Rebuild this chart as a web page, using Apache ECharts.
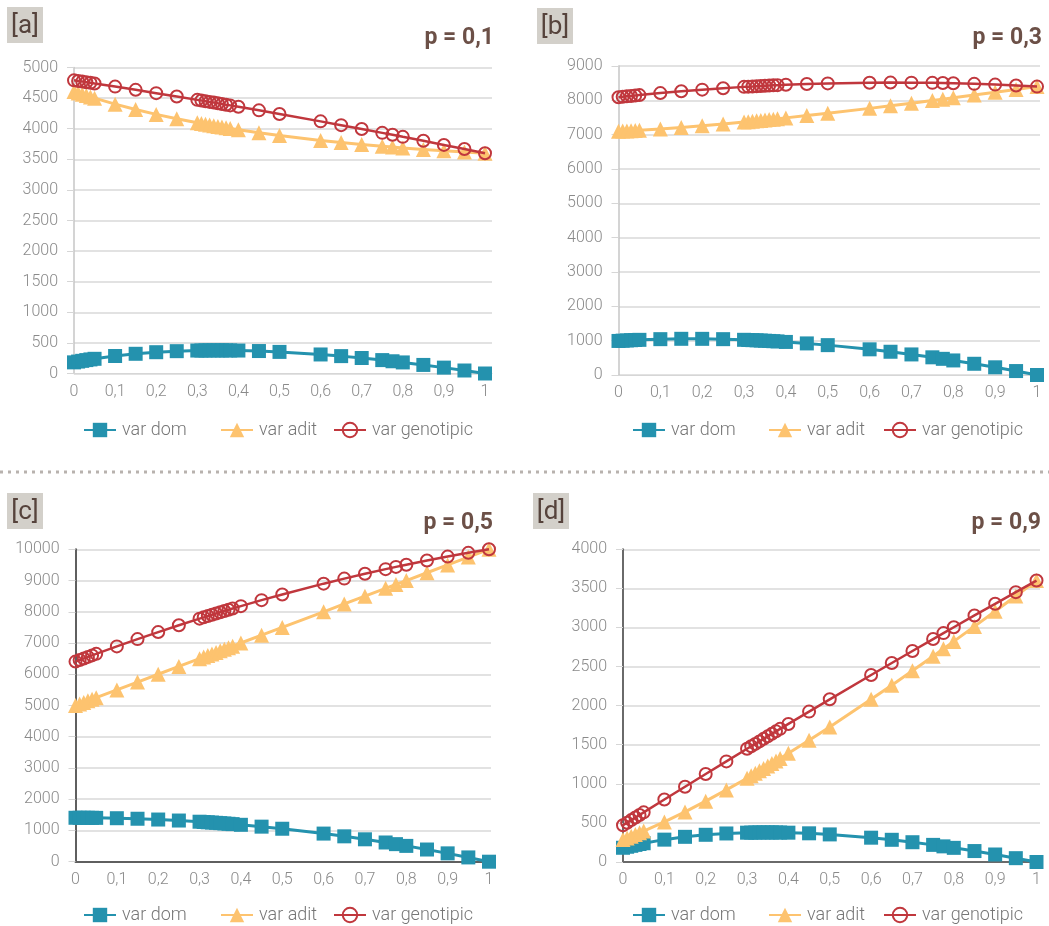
<!DOCTYPE html>
<html>
<head>
<meta charset="utf-8">
<script src="https://cdn.jsdelivr.net/npm/echarts@6/dist/echarts.min.js"></script>
<style>
  html, body { margin: 0; padding: 0; background: #fff; }
  #chart { width: 1049px; height: 926px; }
</style>
</head>
<body>
<div id="chart"></div>
<script>
// Inbreeding coefficient values (x axis), shared by the four panels
const fValues = [0, 0.01, 0.02, 0.03, 0.04, 0.05, 0.1, 0.15, 0.2, 0.25, 0.3, 0.31, 0.32, 0.33, 0.34, 0.35, 0.36, 0.37, 0.38, 0.4, 0.45, 0.5, 0.6, 0.65, 0.7, 0.75, 0.775, 0.8, 0.85, 0.9, 0.95, 1];

// p = 0,1
const domP01 = [182, 195, 207, 219, 230, 240, 286, 322, 348, 365, 375, 376, 377, 378, 378, 378, 378, 378, 377, 375, 367, 353, 311, 284, 253, 219, 200, 181, 140, 96, 49, 0];
const aditP01 = [4608, 4585, 4563, 4541, 4520, 4499, 4401, 4313, 4234, 4162, 4096, 4084, 4072, 4060, 4048, 4037, 4026, 4015, 4004, 3983, 3933, 3888, 3809, 3774, 3742, 3713, 3700, 3686, 3662, 3639, 3619, 3600];
const genP01 = [4790, 4780, 4770, 4760, 4750, 4739, 4688, 4635, 4581, 4527, 4471, 4460, 4449, 4438, 4427, 4415, 4404, 4392, 4381, 4358, 4300, 4241, 4120, 4058, 3995, 3932, 3900, 3867, 3802, 3735, 3668, 3600];

// p = 0,3
const domP03 = [992, 1000, 1006, 1013, 1019, 1024, 1044, 1054, 1053, 1044, 1025, 1020, 1015, 1010, 1004, 998, 992, 985, 978, 963, 920, 870, 748, 677, 599, 515, 471, 424, 327, 224, 115, 0];
const aditP03 = [7098, 7104, 7110, 7116, 7122, 7129, 7166, 7210, 7258, 7310, 7367, 7378, 7390, 7402, 7414, 7426, 7439, 7451, 7464, 7489, 7555, 7623, 7766, 7840, 7916, 7994, 8033, 8072, 8153, 8234, 8317, 8400];
const genP03 = [8090, 8103, 8116, 8128, 8141, 8153, 8211, 8263, 8311, 8354, 8392, 8399, 8405, 8412, 8418, 8424, 8430, 8436, 8442, 8452, 8475, 8493, 8514, 8517, 8515, 8509, 8503, 8497, 8480, 8458, 8432, 8400];

// p = 0,5
const domP05 = [1406, 1406, 1406, 1405, 1404, 1403, 1392, 1375, 1350, 1318, 1280, 1271, 1262, 1253, 1244, 1234, 1224, 1214, 1203, 1181, 1122, 1055, 900, 812, 717, 615, 562, 506, 390, 267, 137, 0];
const aditP05 = [5000, 5050, 5100, 5150, 5200, 5250, 5500, 5750, 6000, 6250, 6500, 6550, 6600, 6650, 6700, 6750, 6800, 6850, 6900, 7000, 7250, 7500, 8000, 8250, 8500, 8750, 8875, 9000, 9250, 9500, 9750, 10000];
const genP05 = [6406, 6456, 6506, 6555, 6604, 6653, 6892, 7125, 7350, 7568, 7780, 7821, 7862, 7903, 7944, 7984, 8024, 8064, 8103, 8181, 8372, 8555, 8900, 9062, 9217, 9365, 9437, 9506, 9640, 9767, 9887, 10000];

// p = 0,9
const domP09 = [182, 195, 207, 219, 230, 240, 286, 322, 348, 365, 375, 376, 377, 378, 378, 378, 378, 378, 377, 375, 367, 353, 311, 284, 253, 219, 200, 181, 140, 96, 49, 0];
const aditP09 = [288, 308, 329, 351, 373, 395, 513, 641, 778, 922, 1072, 1103, 1134, 1166, 1197, 1229, 1261, 1293, 1325, 1391, 1557, 1728, 2081, 2262, 2446, 2633, 2728, 2822, 3014, 3207, 3403, 3600];
const genP09 = [470, 503, 536, 569, 602, 635, 800, 963, 1125, 1287, 1448, 1480, 1511, 1543, 1575, 1607, 1639, 1671, 1703, 1766, 1924, 2081, 2392, 2546, 2699, 2852, 2928, 3003, 3154, 3303, 3452, 3600];

const seriesNames = ['var dom', 'var adit', 'var genotipic'];
const panelTags = ['[a]', '[b]', '[c]', '[d]'];
const panelTitles = ['p = 0,1', 'p = 0,3', 'p = 0,5', 'p = 0,9'];
const yMax = [5000, 9000, 10000, 4000];
const yStep = [500, 1000, 1000, 500];

const panelData = [
  [domP01, aditP01, genP01],
  [domP03, aditP03, genP03],
  [domP05, aditP05, genP05],
  [domP09, aditP09, genP09]
];

// layout of each panel
const panels = [
  { left: 74,    top: 67.5,  width: 418,   height: 306,   xEnd: 411,   axisColor: '#c6c6c6', axisWidth: 1.5, tag: [7, 7],   title: [494, 38],  legendY: 430, legendX: [83, 220, 333] },
  { left: 618.5, top: 66,    width: 421.5, height: 309,   xEnd: 418.5, axisColor: '#c6c6c6', axisWidth: 1.5, tag: [537, 8], title: [1042, 38], legendY: 430, legendX: [632, 768, 883] },
  { left: 75.5,  top: 549.3, width: 415.5, height: 312.4, xEnd: 413.5, axisColor: '#5f5f5f', axisWidth: 2,   tag: [7, 493], title: [493, 523], legendY: 915, legendX: [83, 220, 333] },
  { left: 623,   top: 549.3, width: 417,   height: 312.7, xEnd: 413.5, axisColor: '#6a6a6a', axisWidth: 2,   tag: [533, 493], title: [1041, 523], legendY: 915, legendX: [632, 768, 883] }
];

const colors = ['#2492ae', '#fdc36f', '#c0373d'];
const FONT = 'Roboto, "Noto Sans", sans-serif';

const grids = [], xAxes = [], yAxes = [], series = [], legends = [], graphics = [];

panels.forEach((pn, k) => {
  grids.push({ left: pn.left, top: pn.top, width: pn.width, height: pn.height, containLabel: false });
  xAxes.push({
    type: 'value', gridIndex: k, min: 0, max: pn.width / pn.xEnd, interval: 0.1,
    axisLine: { show: true, onZero: false, lineStyle: { color: k < 2 ? '#d6d6d6' : pn.axisColor, width: k < 2 ? 1 : pn.axisWidth } },
    axisTick: { show: false },
    splitLine: { show: false },
    axisLabel: {
      margin: 10, fontSize: 16, fontWeight: 300, fontFamily: FONT, color: '#8a8a8a',
      formatter: v => {
        const t = v * 10;
        if (Math.abs(t - Math.round(t)) > 1e-6) return '';
        return String(Math.round(t) / 10).replace('.', ',');
      }
    }
  });
  yAxes.push({
    type: 'value', gridIndex: k, min: 0, max: yMax[k], interval: yStep[k],
    axisLine: { show: true, lineStyle: { color: pn.axisColor, width: pn.axisWidth } },
    axisTick: { show: true, length: 7, lineStyle: { color: '#d6d6d6', width: 1 } },
    splitLine: { show: true, lineStyle: { color: '#d9d9d9', width: 1.5 } },
    axisLabel: { margin: 16, fontSize: 16, fontWeight: 300, fontFamily: FONT, color: '#8a8a8a',
      formatter: v => String(v) }
  });

  const [dom, adit, gen] = panelData[k];
  const pts = arr => fValues.map((f, i) => [f, arr[i]]);
  series.push({
    name: seriesNames[0], type: 'line', xAxisIndex: k, yAxisIndex: k, data: pts(dom),
    symbol: 'rect', symbolSize: 14, z: 2, animation: false,
    lineStyle: { color: colors[0], width: 3 }, itemStyle: { color: colors[0] }
  });
  series.push({
    name: seriesNames[1], type: 'line', xAxisIndex: k, yAxisIndex: k, data: pts(adit),
    symbol: 'triangle', symbolSize: 15, z: 3, animation: false,
    lineStyle: { color: colors[1], width: 3 }, itemStyle: { color: colors[1] }
  });
  series.push({
    name: seriesNames[2], type: 'line', xAxisIndex: k, yAxisIndex: k, data: pts(gen),
    symbol: 'circle', symbolSize: 12, z: 4, animation: false,
    lineStyle: { color: colors[2], width: 2.5 },
    itemStyle: { color: 'rgba(255,255,255,0)', borderColor: colors[2], borderWidth: 2 }
  });

  seriesNames.forEach((nm, j) => {
    legends.push({
      data: [nm], left: pn.legendX[j], top: pn.legendY - 9, padding: 0,
      itemWidth: 32, itemHeight: 18, itemGap: 0, selectedMode: false,
      textStyle: { fontSize: 18, fontWeight: 300, fontFamily: FONT, color: '#767676', padding: [0, 0, 0, 1] }
    });
  });

  // panel tag box and title
  graphics.push({ type: 'rect', shape: { x: pn.tag[0], y: pn.tag[1], width: 36, height: 36 }, style: { fill: '#d3d0ca' } });
  graphics.push({ type: 'text', x: pn.tag[0] + 18, y: pn.tag[1] + 19,
    style: { text: panelTags[k], fill: '#56433c', font: '400 26px ' + FONT, textAlign: 'center', textVerticalAlign: 'middle' } });
  graphics.push({ type: 'text', x: pn.title[0], y: pn.title[1],
    style: { text: panelTitles[k], fill: '#6c5047', font: 'bold 23px ' + FONT, textAlign: 'right', textVerticalAlign: 'middle' } });
});

// dotted separator between the two rows
graphics.push({ type: 'line', shape: { x1: 0, y1: 472, x2: 1049, y2: 472 },
  style: { stroke: '#b8b2ae', lineWidth: 3, lineDash: [3, 5] } });

const chart = echarts.init(document.getElementById('chart'), null, { renderer: 'canvas' });
chart.setOption({
  animation: false,
  backgroundColor: '#ffffff',
  grid: grids, xAxis: xAxes, yAxis: yAxes, series: series, legend: legends,
  graphic: graphics
});
</script>
</body>
</html>
